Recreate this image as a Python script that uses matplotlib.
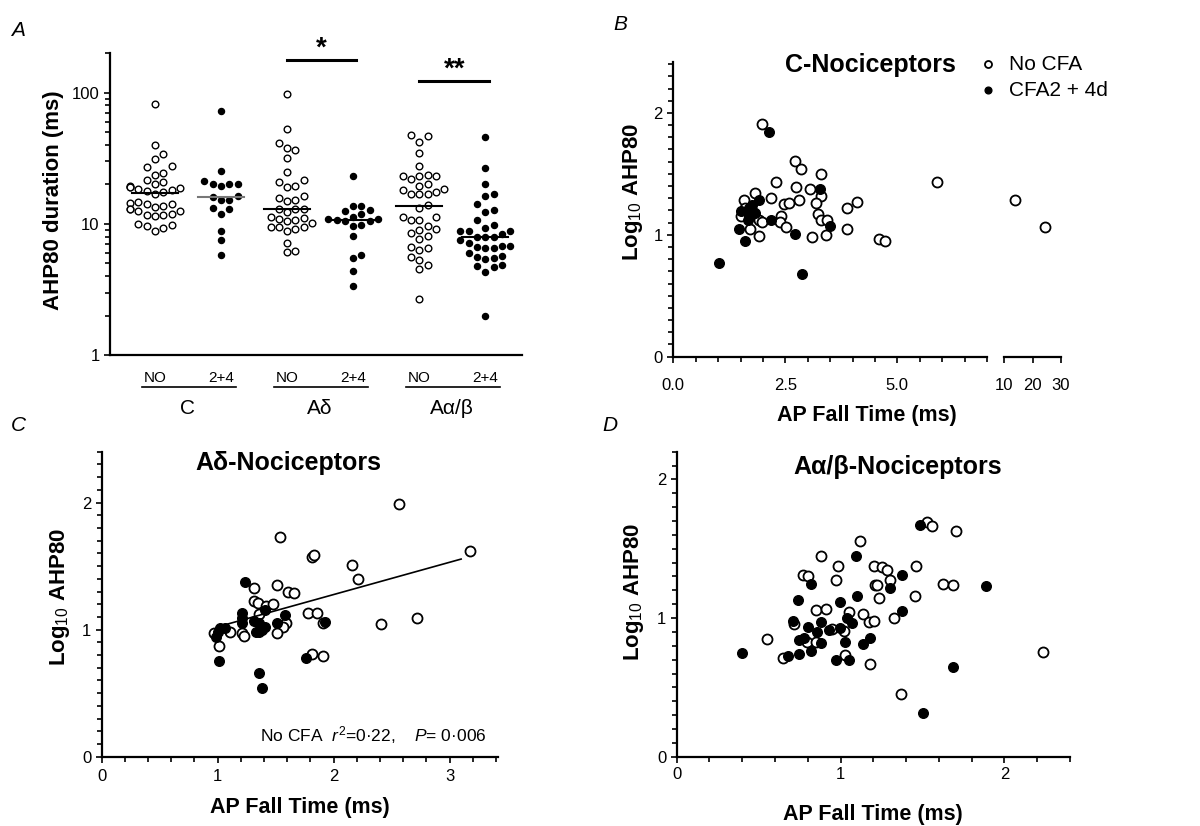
import numpy as np
import matplotlib.pyplot as plt
from matplotlib.ticker import MultipleLocator, FixedLocator, NullFormatter, LogLocator

plt.rcParams['font.family'] = ['Liberation Sans', 'DejaVu Sans']
plt.rcParams['mathtext.fontset'] = 'custom'
plt.rcParams['mathtext.rm'] = 'Liberation Sans'
plt.rcParams['mathtext.it'] = 'Liberation Sans:italic'
plt.rcParams['mathtext.bf'] = 'Liberation Sans:bold'

# ---- panel A: AHP80 duration (ms) per group ----
a_groups = ['NO', '2+4', 'NO', '2+4', 'NO', '2+4']
a_fibres = ['C', 'Aδ', 'Aα/β']
c_no = [81.5, 39.8, 34.2, 31.5, 27.5, 27.2, 24.6, 23.8, 21.7, 20.7, 20.0, 19.3, 19.0, 19.0,
        18.8, 18.5, 18.2, 17.8, 17.5, 16.9, 14.8, 14.5, 14.2, 14.2, 13.6, 13.4, 13.0, 13.0,
        12.6, 12.6, 11.9, 11.7, 11.6, 11.4, 10.0, 9.9, 9.7, 9.3, 8.8]
c_cfa = [72.4, 25.2, 21.4, 20.0, 19.6, 20.0, 20.2, 16.4, 16.0, 15.1, 15.1, 13.2, 13.0,
         11.9, 8.9, 7.6, 5.8]
ad_no = [97, 52.5, 41.5, 37.8, 36.7, 31.9, 24.9, 21.7, 20.8, 19.6, 19.1, 16.4, 15.8, 15.2,
         14.9, 13.0, 13.0, 13.0, 12.3, 11.2, 11.1, 10.9, 10.7, 10.6, 10.2, 9.4, 9.4, 9.4,
         9.2, 8.9, 7.2, 6.2, 6.1]
ad_cfa = [23.1, 13.8, 13.6, 12.8, 12.5, 11.9, 11.3, 11.0, 10.9, 10.8, 10.6, 10.5, 9.8, 9.6,
          8.1, 5.8, 5.5, 4.4, 3.35]
aab_no = [47.7, 46.4, 42, 34.8, 27.4, 23.7, 23.1, 23.0, 23.0, 21.9, 20.0, 19.5, 18.3, 18.2,
          17.5, 17.0, 16.8, 16.8, 14.0, 13.2, 11.2, 11.2, 10.7, 10.7, 9.7, 9.2, 9.0, 8.6,
          8.1, 7.7, 6.7, 6.5, 6.3, 5.6, 5.3, 4.9, 4.5, 2.7]
aab_cfa = [45.9, 26.7, 20.0, 16.9, 16.4, 14.1, 12.8, 12.4, 10.7, 9.9, 9.3, 8.9, 8.9, 8.9,
           8.4, 8.0, 8.0, 8.0, 7.5, 7.2, 6.8, 6.8, 6.7, 6.6, 6.6, 6.0, 5.7, 5.6, 5.5, 5.4,
           4.9, 4.8, 4.7, 4.3, 2.0]
a_medians = [17.3, 16.0, 13.0, 10.7, 13.8, 8.0]

# ---- panel B: C-nociceptors, AP fall time (ms) vs log10 AHP80 ----
b_no_x = [1.99, 2.71, 2.84, 3.29, 2.30, 2.73, 3.05, 3.29, 2.18, 2.81, 2.47, 2.58, 3.19, 1.82,
          1.58, 4.09, 3.88, 2.40, 2.38, 3.22, 3.29, 3.43, 1.52, 1.92, 1.99, 1.71, 2.51, 1.92,
          3.10, 3.40, 3.88, 4.59, 4.73, 5.89, 1.60, 13.8, 24.4]
b_no_y = [1.912, 1.603, 1.540, 1.501, 1.433, 1.392, 1.378, 1.315, 1.301, 1.288, 1.255, 1.26,
          1.26, 1.342, 1.288, 1.266, 1.219, 1.151, 1.101, 1.170, 1.123, 1.118, 1.151, 1.123,
          1.101, 1.047, 1.063, 0.992, 0.981, 0.997, 1.047, 0.964, 0.945, 1.433, 1.22, 1.282,
          1.063]
b_cfa_x = [2.14, 3.27, 1.92, 1.75, 1.75, 1.52, 1.83, 1.66, 2.18, 1.47, 1.61, 2.71, 3.49,
           1.03, 2.88, 1.70, 1.68]
b_cfa_y = [1.844, 1.375, 1.288, 1.247, 1.20, 1.192, 1.178, 1.123, 1.123, 1.047, 0.953, 1.005,
           1.074, 0.767, 0.677, 1.15, 1.22]

# ---- panel C: Adelta-nociceptors ----
c_no_x = [2.56, 1.54, 3.18, 1.81, 1.83, 2.16, 2.21, 1.31, 1.51, 1.61, 1.66, 1.31, 1.35, 1.42,
          1.48, 1.36, 1.78, 1.86, 2.72, 2.41, 1.59, 1.56, 1.91, 1.51, 1.11, 1.21, 1.23, 0.97,
          1.01, 1.81, 1.91]
c_no_y = [1.99, 1.732, 1.619, 1.575, 1.588, 1.509, 1.399, 1.325, 1.352, 1.299, 1.291, 1.228,
          1.213, 1.189, 1.2, 1.123, 1.129, 1.129, 1.089, 1.042, 1.05, 1.024, 1.05, 0.976,
          0.982, 0.976, 0.95, 0.971, 0.871, 0.808, 0.793]
c_cfa_x = [1.24, 1.21, 1.21, 1.21, 1.31, 1.41, 1.36, 1.41, 1.36, 1.51, 1.58, 1.93, 1.02, 1.06,
           0.99, 1.01, 1.76, 1.36, 1.38, 1.00, 1.38, 1.33]
c_cfa_y = [1.378, 1.129, 1.089, 1.05, 1.071, 1.155, 1.05, 1.018, 0.984, 1.05, 1.115, 1.063,
           1.01, 1.01, 0.945, 0.756, 0.774, 0.656, 0.543, 0.985, 1.00, 0.98]
c_fit_slope = 0.254
c_fit_intercept = 0.768
c_fit_range = [0.99, 3.10]

# ---- panel D: Aalpha/beta-nociceptors ----
d_no_x = [1.527, 1.558, 1.707, 1.12, 0.88, 0.982, 1.202, 1.253, 1.283, 1.462, 0.768, 0.80,
          0.971, 1.303, 1.208, 1.222, 1.623, 1.684, 1.232, 1.452, 0.851, 0.91, 1.049, 1.134,
          1.324, 1.171, 1.206, 0.717, 0.947, 1.022, 0.55, 0.798, 0.851, 1.029, 0.648, 1.181,
          1.371, 2.236]
d_no_y = [1.692, 1.667, 1.631, 1.554, 1.451, 1.373, 1.378, 1.369, 1.349, 1.373, 1.313, 1.301,
          1.272, 1.277, 1.241, 1.236, 1.248, 1.236, 1.145, 1.161, 1.06, 1.067, 1.041, 1.031,
          1.0, 0.969, 0.981, 0.957, 0.920, 0.908, 0.848, 0.824, 0.831, 0.735, 0.711, 0.670,
          0.453, 0.754]
d_cfa_x = [1.483, 1.094, 0.819, 1.375, 1.303, 1.89, 0.739, 0.998, 1.10, 1.375, 1.039, 0.708,
           1.069, 0.80, 0.88, 0.855, 0.927, 0.998, 0.745, 0.776, 0.88, 1.029, 1.177, 1.136,
           0.749, 0.819, 0.682, 0.401, 0.971, 1.053, 1.684, 1.503]
d_cfa_y = [1.675, 1.446, 1.248, 1.313, 1.217, 1.229, 1.128, 1.116, 1.157, 1.048, 1.0, 0.976,
           0.964, 0.935, 0.971, 0.896, 0.916, 0.928, 0.843, 0.855, 0.819, 0.824, 0.855, 0.814,
           0.742, 0.766, 0.728, 0.747, 0.694, 0.699, 0.646, 0.318]


def swarm(vals, spacing_px=8.3, decade_px=131.0, unit_px=66.2):
    # simple column beeswarm on a log axis
    ypx = np.log10(vals) * decade_px
    cols = np.zeros(len(vals))
    placed = []
    for i in np.argsort(ypx):
        for k in [0, 1, -1, 2, -2, 3, -3]:
            if all(not (c == k and abs(ypx[i] - yy) < spacing_px) for c, yy in placed):
                break
        placed.append((k, ypx[i]))
        cols[i] = k
    return cols * spacing_px / unit_px


def style_axes(ax):
    for s in ['top', 'right']:
        ax.spines[s].set_visible(False)
    for s in ['left', 'bottom']:
        ax.spines[s].set_linewidth(1.6)
    ax.tick_params(which='both', direction='out', width=1.2, labelsize=12)
    ax.tick_params(which='major', length=4)
    ax.tick_params(which='minor', length=3.5)


fig = plt.figure(figsize=(12, 8.26), dpi=100)

# ================= A =================
axA = fig.add_axes([0.0917, 0.570, 0.343, 0.3656])
style_axes(axA)
axA.set_yscale('log')
axA.set_ylim(1, 200)
axA.set_xlim(0.32, 6.55)
axA.yaxis.set_major_locator(FixedLocator([1, 10, 100]))
axA.set_yticklabels(['1', '10', '100'])
axA.yaxis.set_minor_locator(LogLocator(subs=np.arange(2, 10)))
axA.yaxis.set_minor_formatter(NullFormatter())
axA.set_xticks([])

a_data = [c_no, c_cfa, ad_no, ad_cfa, aab_no, aab_cfa]
for i, vals in enumerate(a_data):
    pos = i + 1
    vals = np.array(vals)
    filled = (i % 2 == 1)
    axA.scatter(pos + swarm(vals), vals, s=19 if filled else 23,
                facecolor='black' if filled else 'white', edgecolor='black',
                linewidths=1.0, zorder=3, clip_on=False)
    axA.plot([pos - 0.35, pos + 0.35], [a_medians[i]] * 2,
             color='#777777' if i == 1 else 'black', lw=1.5, zorder=4)

# significance bars
axA.plot([3.0, 4.05], [176, 176], color='black', lw=2.2, clip_on=False)
axA.text(3.52, 218, '*', ha='center', va='center', fontsize=20, fontweight='bold')
axA.plot([5.0, 6.05], [122, 122], color='black', lw=2.2, clip_on=False)
axA.text(5.53, 150, '**', ha='center', va='center', fontsize=20, fontweight='bold')

tr = axA.get_xaxis_transform()
for i, g in enumerate(a_groups):
    axA.text(i + 1, -0.076, g, transform=tr, ha='center', va='center', fontsize=11)
for j, f in enumerate(a_fibres):
    c = 2 * j + 1.5
    axA.plot([c - 0.7, c + 0.73], [-0.105, -0.105], transform=tr, color='black',
             lw=1.2, clip_on=False)
    axA.text(c, -0.175, f, transform=tr, ha='center', va='center', fontsize=15)
axA.text(-0.138, 0.513, 'AHP80 duration (ms)', transform=axA.transAxes, rotation=90,
         ha='center', va='center', fontsize=16, fontweight='bold')

# ================= B =================
open_kw = dict(s=52, facecolor='white', edgecolor='black', linewidths=1.3, zorder=3,
               clip_on=False)
fill_kw = dict(s=48, facecolor='black', edgecolor='black', linewidths=1.0, zorder=4,
               clip_on=False)

axB = fig.add_axes([0.5611, 0.5682, 0.2614, 0.3571])
style_axes(axB)
axB.set_xlim(0, 7.0)
axB.set_ylim(0, 2.42)
axB.set_xticks([0, 2.5, 5.0])
axB.set_xticklabels(['0.0', '2.5', '5.0'])
axB.xaxis.set_minor_locator(MultipleLocator(0.5))
axB.set_yticks([0, 1, 2])
axB.yaxis.set_minor_locator(MultipleLocator(0.1))
axB.tick_params(axis='x', which='major', pad=11)

bx = np.array(b_no_x)
by = np.array(b_no_y)
near = bx <= 7
h_open = axB.scatter(bx[near], by[near], **open_kw)
h_fill = axB.scatter(b_cfa_x, b_cfa_y, **fill_kw)

axB2 = fig.add_axes([0.8369, 0.5682, 0.0472, 0.3571], sharey=axB)
style_axes(axB2)
axB2.patch.set_visible(False)
axB2.spines['left'].set_visible(False)
axB2.tick_params(axis='y', left=False, labelleft=False, which='both')
axB2.set_xlim(10, 30)
axB2.set_xticks([10, 20, 30])
axB2.set_xticklabels(['10', '20', '30'])
axB2.tick_params(axis='x', which='major', pad=11)
axB2.scatter(bx[~near], by[~near], **open_kw)

axB.text(0.627, 0.989, 'C-Nociceptors', transform=axB.transAxes, ha='center',
         va='center', fontsize=18, fontweight='bold')
fig.legend([h_open, h_fill], ['No CFA', 'CFA2 + 4d'], loc='upper left',
           bbox_to_anchor=(0.815, 0.934), frameon=False,
           borderpad=0, borderaxespad=0, handletextpad=0.5, labelspacing=0.35,
           handlelength=1.0, fontsize=15, markerscale=0.7)
axB.text(-0.128, 0.558, r'Log$_{10}$ AHP80', transform=axB.transAxes, rotation=90,
         ha='center', va='center', fontsize=16, fontweight='bold')
fig.text(867 / 1200, 1 - 415 / 826, 'AP Fall Time (ms)', ha='center', va='center',
         fontsize=15.5, fontweight='bold')

# ================= C =================
axC = fig.add_axes([0.0847, 0.0839, 0.3305, 0.3692])
style_axes(axC)
axC.set_xlim(0, 3.42)
axC.set_ylim(0, 2.4)
axC.set_xticks([0, 1, 2, 3])
axC.xaxis.set_minor_locator(MultipleLocator(0.2))
axC.set_yticks([0, 1, 2])
axC.yaxis.set_minor_locator(MultipleLocator(0.1))
axC.tick_params(axis='x', which='major', pad=5)
axC.scatter(c_no_x, c_no_y, **open_kw)
axC.scatter(c_cfa_x, c_cfa_y, **fill_kw)
fx = np.array(c_fit_range)
axC.plot(fx, c_fit_intercept + c_fit_slope * fx, color='black', lw=1.2, zorder=5)
axC.text(0.47, 0.962, 'Aδ-Nociceptors', transform=axC.transAxes, ha='center',
         va='center', fontsize=18, fontweight='bold')
axC.text(0.399, 0.071, r'No CFA  $r^2$=0·22,    $P$= 0·006', transform=axC.transAxes,
         ha='left', va='center', fontsize=12.5)
axC.text(-0.106, 0.524, r'Log$_{10}$ AHP80', transform=axC.transAxes, rotation=90,
         ha='center', va='center', fontsize=16, fontweight='bold')
axC.text(0.5, -0.168, 'AP Fall Time (ms)', transform=axC.transAxes, ha='center',
         va='center', fontsize=15.5, fontweight='bold')

# ================= D =================
axD = fig.add_axes([0.5639, 0.0839, 0.3278, 0.3692])
style_axes(axD)
axD.set_xlim(0, 2.4)
axD.set_ylim(0, 2.2)
axD.set_xticks([0, 1, 2])
axD.xaxis.set_minor_locator(MultipleLocator(0.2))
axD.set_yticks([0, 1, 2])
axD.yaxis.set_minor_locator(MultipleLocator(0.1))
axD.scatter(d_no_x, d_no_y, **open_kw)
axD.scatter(d_cfa_x, d_cfa_y, **fill_kw)
axD.text(0.563, 0.951, 'Aα/β-Nociceptors', transform=axD.transAxes, ha='center',
         va='center', fontsize=18, fontweight='bold')
axD.text(-0.109, 0.541, r'Log$_{10}$ AHP80', transform=axD.transAxes, rotation=90,
         ha='center', va='center', fontsize=16, fontweight='bold')
axD.text(0.5, -0.19, 'AP Fall Time (ms)', transform=axD.transAxes, ha='center',
         va='center', fontsize=15.5, fontweight='bold')

# panel letters
for lbl, x, y in [('A', 18, 30), ('B', 620, 25), ('C', 18, 425), ('D', 610, 425)]:
    fig.text(x / 1200, 1 - y / 826, lbl, ha='center', va='center', fontsize=15,
             style='italic')

fig.savefig('out.png', dpi=100)
